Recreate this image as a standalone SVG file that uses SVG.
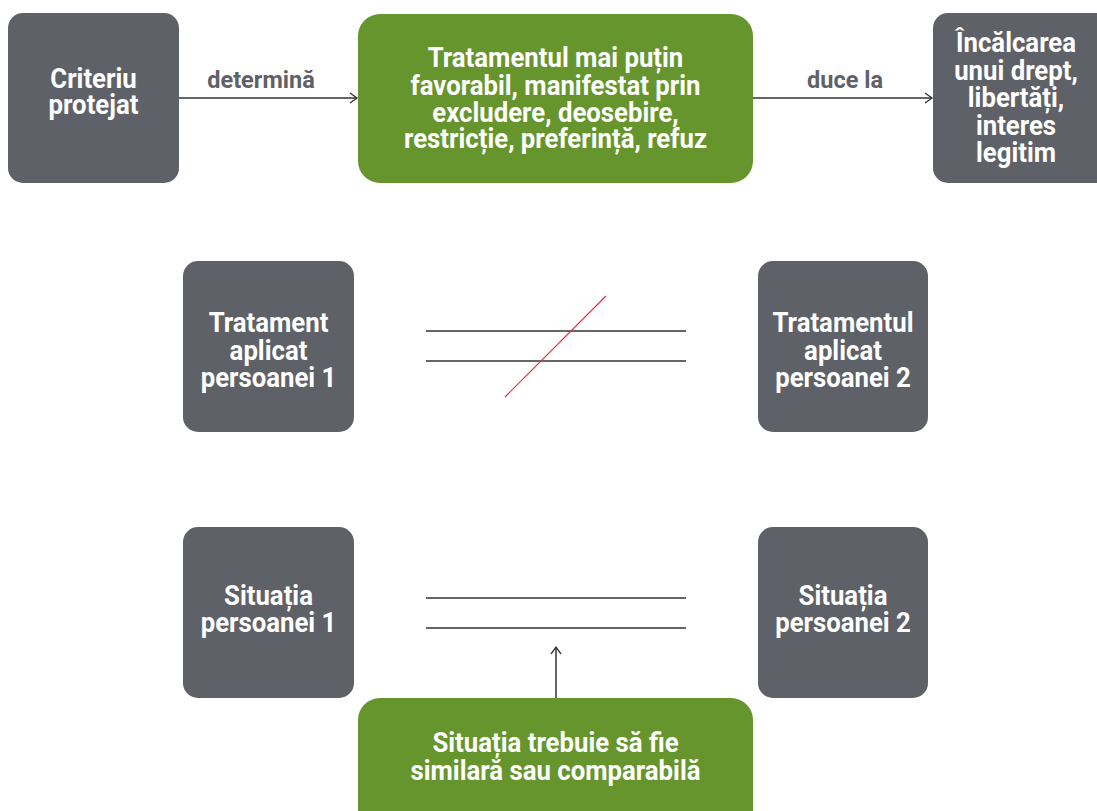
<svg xmlns="http://www.w3.org/2000/svg" width="1097" height="811" viewBox="0 0 1097 811">
<style>
.g{fill:#5f6168}
.gr{fill:#67952d}
.t{font-family:Roboto,"Liberation Sans",sans-serif;font-weight:bold;font-size:28px;fill:#ffffff;text-anchor:middle}
.lbl{font-family:Roboto,"Liberation Sans",sans-serif;font-weight:bold;font-size:23.5px;fill:#5f6168;text-anchor:middle}
.ln{stroke:#333333;stroke-width:1.5;fill:none}
</style>
<defs>
<marker id="ah" markerWidth="12" markerHeight="12" refX="10" refY="6" orient="auto" markerUnits="userSpaceOnUse">
<path d="M3,1 L10,6 L3,11" fill="none" stroke="#333333" stroke-width="1.3"/>
</marker>
</defs>
<g id="n1"><rect class="g" x="8" y="13" width="171" height="170" rx="15"/>
<text class="t" transform="translate(93.5,0) scale(0.92,1)"><tspan x="0" y="88">Criteriu</tspan><tspan x="0" y="114">protejat</tspan></text></g>
<g id="n2"><rect class="gr" x="358" y="14" width="395" height="169" rx="22"/>
<text class="t" transform="translate(555.5,0) scale(0.92,1)"><tspan x="0" y="67">Tratamentul mai puțin</tspan><tspan x="0" y="95">favorabil, manifestat prin</tspan><tspan x="0" y="122">excludere, deosebire,</tspan><tspan x="0" y="148">restricție, preferință, refuz</tspan></text></g>
<g id="n3"><rect class="g" x="933" y="13" width="180" height="170" rx="15"/>
<text class="t" transform="translate(1016,0) scale(0.92,1)"><tspan x="0" y="52">Încălcarea</tspan><tspan x="0" y="80">unui drept,</tspan><tspan x="0" y="107">libertăți,</tspan><tspan x="0" y="135">interes</tspan><tspan x="0" y="162">legitim</tspan></text></g>
<g id="n4"><rect class="g" x="183" y="261" width="171" height="171" rx="15"/>
<text class="t" transform="translate(268.5,0) scale(0.92,1)"><tspan x="0" y="332">Tratament</tspan><tspan x="0" y="360">aplicat</tspan><tspan x="0" y="387">persoanei 1</tspan></text></g>
<g id="n5"><rect class="g" x="758" y="261" width="170" height="171" rx="15"/>
<text class="t" transform="translate(843,0) scale(0.92,1)"><tspan x="0" y="332">Tratamentul</tspan><tspan x="0" y="360">aplicat</tspan><tspan x="0" y="387">persoanei 2</tspan></text></g>
<g id="n6"><rect class="g" x="183" y="527" width="171" height="171" rx="15"/>
<text class="t" transform="translate(268.5,0) scale(0.92,1)"><tspan x="0" y="605">Situația</tspan><tspan x="0" y="632">persoanei 1</tspan></text></g>
<g id="n7"><rect class="g" x="758" y="527" width="170" height="171" rx="15"/>
<text class="t" transform="translate(843,0) scale(0.92,1)"><tspan x="0" y="605">Situația</tspan><tspan x="0" y="632">persoanei 2</tspan></text></g>
<g id="n8"><rect class="gr" x="358" y="698" width="395" height="140" rx="22"/>
<text class="t" transform="translate(555.5,0) scale(0.92,1)"><tspan x="0" y="752">Situația trebuie să fie</tspan><tspan x="0" y="780">similară sau comparabilă</tspan></text></g>
<g id="connectors">
<line class="ln" x1="179" y1="98" x2="357" y2="98" marker-end="url(#ah)"/>
<text class="lbl" x="261" y="88">determină</text>
<line class="ln" x1="753" y1="98" x2="932" y2="98" marker-end="url(#ah)"/>
<text class="lbl" x="845" y="88">duce la</text>
<line class="ln" x1="426" y1="331" x2="686" y2="331"/>
<line class="ln" x1="426" y1="361" x2="686" y2="361"/>
<line x1="606" y1="296" x2="505" y2="397" stroke="#e0303f" stroke-width="1.2"/>
<line class="ln" x1="426" y1="598" x2="686" y2="598"/>
<line class="ln" x1="426" y1="628" x2="686" y2="628"/>
<line class="ln" x1="556" y1="698" x2="556" y2="647" marker-end="url(#ah)"/>
</g>
</svg>
